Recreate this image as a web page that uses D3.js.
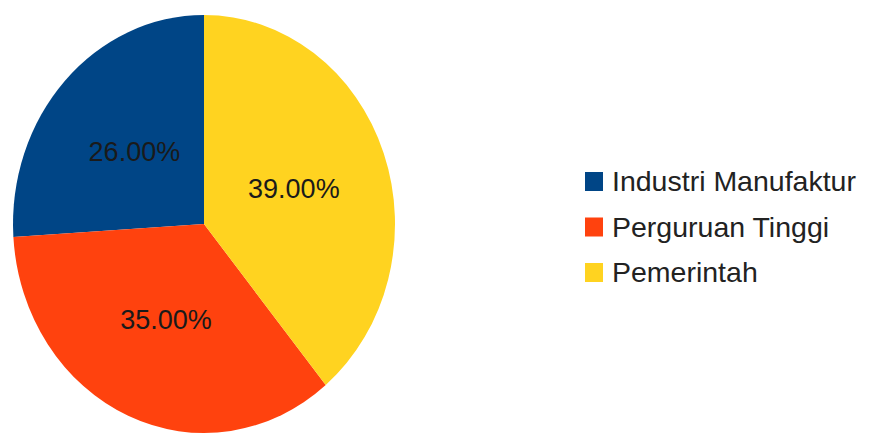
<!DOCTYPE html>
<html>
<head>
<meta charset="utf-8">
<script src="https://cdn.jsdelivr.net/npm/d3@7"></script>
<style>
  body { margin: 0; background: #fff; }
  svg { display: block; }
</style>
</head>
<body>
<svg id="chart" width="881" height="435"></svg>
<script>
const categories = ["Industri Manufaktur", "Perguruan Tinggi", "Pemerintah"];
const values = [26, 35, 39];
const colors = ["#004586", "#ff420e", "#ffd320"];

const svg = d3.select("#chart");
const cx = 204, cy = 224, rx = 191, ry = 209;
const sy = ry / rx;

const pie = d3.pie().sort(null).startAngle(0).endAngle(-2 * Math.PI);
const arcs = pie(values);
const arc = d3.arc().innerRadius(0).outerRadius(rx);

const g = svg.append("g").attr("transform", `translate(${cx},${cy}) scale(1,${sy})`);
g.selectAll("path").data(arcs).enter().append("path")
  .attr("d", arc)
  .attr("fill", (d, i) => colors[i]);

const fmt = d3.format(".2f");
const total = d3.sum(values);
svg.append("g").selectAll("text").data(arcs).enter().append("text")
  .attr("x", d => cx + arc.centroid(d)[0])
  .attr("y", d => cy + arc.centroid(d)[1] * sy)
  .attr("text-anchor", "middle")
  .attr("dominant-baseline", "central")
  .attr("font-family", "Liberation Sans, Arial, sans-serif")
  .attr("font-size", 27)
  .attr("fill", "#1a1a1a")
  .text(d => fmt(d.value / total * 100) + "%");

const legend = svg.append("g").attr("transform", "translate(585,0)");
const rowY = [191, 236.5, 282];
const items = legend.selectAll("g").data(categories).enter().append("g")
  .attr("transform", (d, i) => `translate(0,${rowY[i]})`);
items.append("rect")
  .attr("x", 0).attr("y", -19).attr("width", 18).attr("height", 19)
  .attr("fill", (d, i) => colors[i]);
items.append("text")
  .attr("x", 27).attr("y", 0)
  .attr("font-family", "Liberation Sans, Arial, sans-serif")
  .attr("font-size", 28.5)
  .attr("fill", "#222")
  .text(d => d);
</script>
</body>
</html>
